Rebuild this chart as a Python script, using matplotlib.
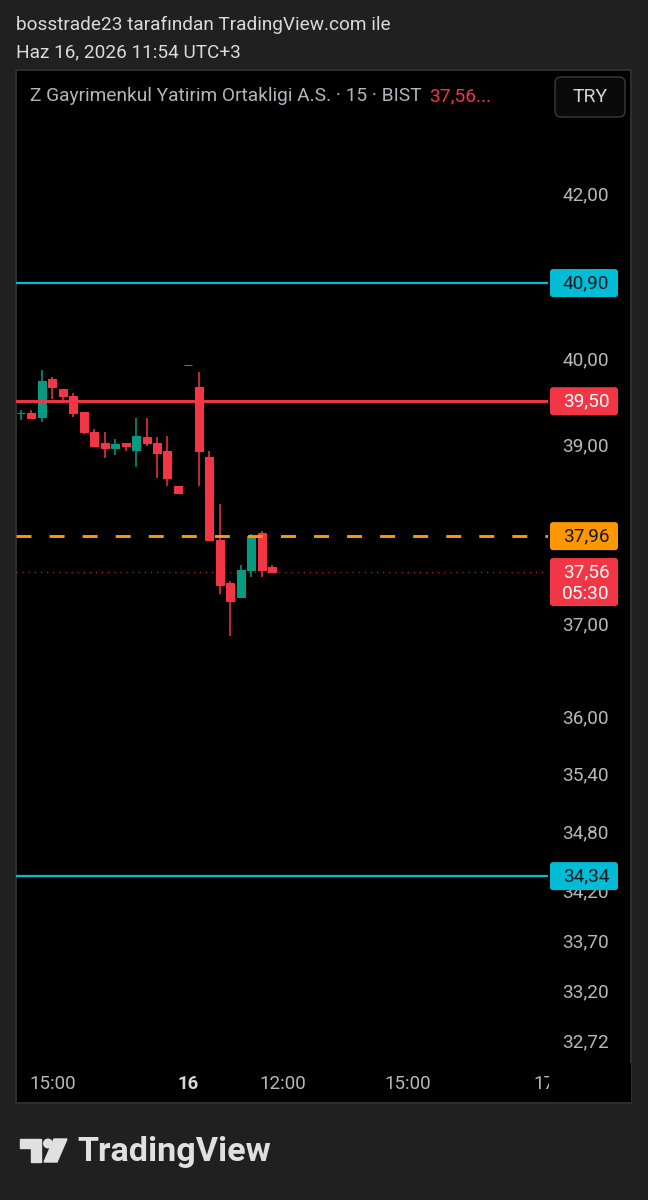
import matplotlib
matplotlib.use('Agg')
import matplotlib.pyplot as plt
from matplotlib.patches import Rectangle, FancyBboxPatch, Circle, Polygon
from matplotlib.ticker import NullLocator
import numpy as np

plt.rcParams['font.family'] = ['Roboto', 'DejaVu Sans']
plt.rcParams['lines.scale_dashes'] = False

W, H = 648, 1200

# 15 dakikalik mumlar, 15 Haz 14:15 -> 16 Haz 11:45
opens  = [39.36, 39.36, 39.32, 39.76, 39.64, 39.56, 39.38, 39.14, 39.02, 38.96,
          39.02, 38.94, 39.08, 39.02, 38.92, 38.52, 39.92, 39.66, 38.86, 37.92,
          37.44, 37.28, 37.58, 38.00, 37.62]
highs  = [39.40, 39.40, 39.86, 39.78, 39.64, 39.60, 39.38, 39.18, 39.14, 39.06,
          39.02, 39.30, 39.30, 39.08, 39.10, 38.52, 39.92, 39.84, 38.92, 38.32,
          37.46, 37.64, 37.98, 38.02, 37.64]
lows   = [39.28, 39.30, 39.26, 39.52, 39.48, 39.32, 39.12, 38.98, 38.84, 38.88,
          38.92, 38.74, 38.98, 38.62, 38.52, 38.44, 39.92, 38.52, 37.92, 37.32,
          36.86, 37.28, 37.50, 37.50, 37.56]
closes = [39.36, 39.30, 39.74, 39.66, 39.56, 39.36, 39.14, 38.98, 38.96, 39.00,
          38.98, 39.10, 39.02, 38.90, 38.62, 38.44, 39.92, 38.92, 37.92, 37.42,
          37.24, 37.58, 37.96, 37.58, 37.56]

price_ticks = [42.0, 41.0, 40.0, 39.0, 38.0, 37.0, 36.0, 35.4, 34.8, 34.2, 33.7, 33.2, 32.72]
price_labels = ['42,00', '41,00', '40,00', '39,00', '38,00', '37,00', '36,00',
                '35,40', '34,80', '34,20', '33,70', '33,20', '32,72']
time_ticks = [3, 16, 25, 37, 50]
time_labels = ['15:00', '16', '12:00', '15:00', '17']

cyan_levels = [40.90, 34.34]
red_level = 39.50
orange_level = 37.96
last_price = 37.56
countdown = '05:30'

RED = '#f23645'
GREEN = '#089981'
CYAN = '#00bcd4'
ORANGE = '#ff9800'
BG = '#202020'

fig = plt.figure(figsize=(W / 100, H / 100), dpi=100)
fig.patch.set_facecolor(BG)

def px_axes(zorder):
    a = fig.add_axes([0, 0, 1, 1], zorder=zorder)
    a.set_xlim(0, W)
    a.set_ylim(H, 0)
    a.axis('off')
    a.patch.set_alpha(0)
    return a

# arka plan: panel, baslik, logo
bg = px_axes(0)
bg.add_patch(Rectangle((16, 70), 615, 1033, facecolor='black', edgecolor='#2e2e2e', lw=1.5))
bg.text(16.5, 25, 'bosstrade23 tarafından TradingView.com ile', fontsize=13.7,
        color='#dadada', va='center', ha='left')
bg.text(16.5, 52, 'Haz 16, 2026 11:54 UTC+3', fontsize=13.7,
        color='#dadada', va='center', ha='left')

# TradingView logosu
logo_c = '#e0e0e0'
bg.add_patch(Polygon([(19.5, 1139), (41, 1139), (41, 1162), (31, 1162), (31, 1148), (19.5, 1148)],
                     closed=True, color=logo_c))
bg.add_patch(Circle((48, 1143.5), 4.3, color=logo_c))
bg.add_patch(Polygon([(54, 1139), (67, 1139), (57, 1162), (44, 1162)], closed=True, color=logo_c))
bg.text(77, 1152, 'TradingView', fontsize=24.6, fontweight='bold', color=logo_c,
        va='center', ha='left')

# ana grafik
L, R, T, B = 16, 548, 70, 1062
ax = fig.add_axes([L / W, 1 - B / H, (R - L) / W, (B - T) / H], zorder=1)
ax.set_facecolor('black')
ax.patch.set_alpha(0)
for s in ax.spines.values():
    s.set_visible(False)
ax.set_yscale('log')
ax.set_ylim(32.509, 43.551)
ax.set_xlim(-0.478, 50.38)
ax.yaxis.set_minor_locator(NullLocator())
ax.yaxis.tick_right()
ax.set_yticks(price_ticks, price_labels)
for lab in ax.get_yticklabels():
    lab.set_ha('right')
ax.tick_params(axis='y', length=0, pad=44, labelsize=13.7, labelcolor='#b8b8b8')
ax.set_xticks(time_ticks, time_labels)
ax.tick_params(axis='x', length=0, pad=9.5, labelsize=13.5, labelcolor='#b8b8b8')
ax.get_xticklabels()[1].set_fontweight('bold')
ax.get_xticklabels()[1].set_color('#d8d8d8')

idx = np.arange(len(opens))
o = np.array(opens)
c = np.array(closes)
cols = [GREEN if cc >= oo else RED for oo, cc in zip(o, c)]
ax.vlines(idx, lows, highs, colors=cols, lw=1.1, zorder=2)
ax.bar(idx, c - o, bottom=o, width=0.76, color=cols, edgecolor=cols, lw=0.8, zorder=2)

for lv in cyan_levels:
    ax.axhline(lv, color=CYAN, lw=1.6, zorder=3)
ax.axhline(red_level, color=RED, lw=2.1, zorder=3)
ax.axhline(orange_level, color=ORANGE, lw=2.1, linestyle=(0, (10.8, 13)), zorder=3)
ax.axhline(last_price, color=RED, lw=0.9, alpha=0.8, linestyle=(0, (0.8, 3.6)), zorder=3)

# ust katman: fiyat etiketleri, sembol basligi
ov = px_axes(2)

def ypix(p):
    return H - ax.transData.transform((0, p))[1]

def price_box(p, text, face, tcol, sub=None):
    y = ypix(p)
    h = 28 if sub is None else 48
    ov.add_patch(FancyBboxPatch((550, y - 14), 68, h, boxstyle='round,pad=0,rounding_size=3',
                                facecolor=face, edgecolor='none'))
    ov.text(586, y, text, fontsize=13.7, color=tcol, ha='center', va='center')
    if sub is not None:
        ov.text(586, y + 21.5, sub, fontsize=13.7, color=tcol, ha='center', va='center')

for lv in cyan_levels:
    price_box(lv, f'{lv:.2f}'.replace('.', ','), CYAN, '#131722')
price_box(red_level, f'{red_level:.2f}'.replace('.', ','), RED, 'white')
price_box(orange_level, f'{orange_level:.2f}'.replace('.', ','), ORANGE, '#131722')
price_box(last_price, f'{last_price:.2f}'.replace('.', ','), RED, 'white', sub=countdown)

# zaman ekseninde sag tarafi kes
ov.add_patch(Rectangle((548.5, 1063), 82, 39, facecolor='black', edgecolor='none'))

t1 = ov.text(30, 96, 'Z Gayrimenkul Yatirim Ortakligi A.S. · 15 · BIST', fontsize=13.8,
             color='#b2b5be', ha='left', va='center')
ov.annotate(f'{last_price:.2f}'.replace('.', ',') + '...', xy=(1, 0.5), xycoords=t1,
            xytext=(8, 0), textcoords='offset pixels', fontsize=13.8, color=RED,
            ha='left', va='center')
ov.add_patch(FancyBboxPatch((555, 77), 70, 40, boxstyle='round,pad=0,rounding_size=6',
                            facecolor='#0a0a0a', edgecolor='#3a3a3a', lw=1))
ov.text(590, 97.5, 'TRY', fontsize=14, color='#d1d4dc', ha='center', va='center')

fig.savefig('out.png', dpi=100, facecolor=fig.get_facecolor())
